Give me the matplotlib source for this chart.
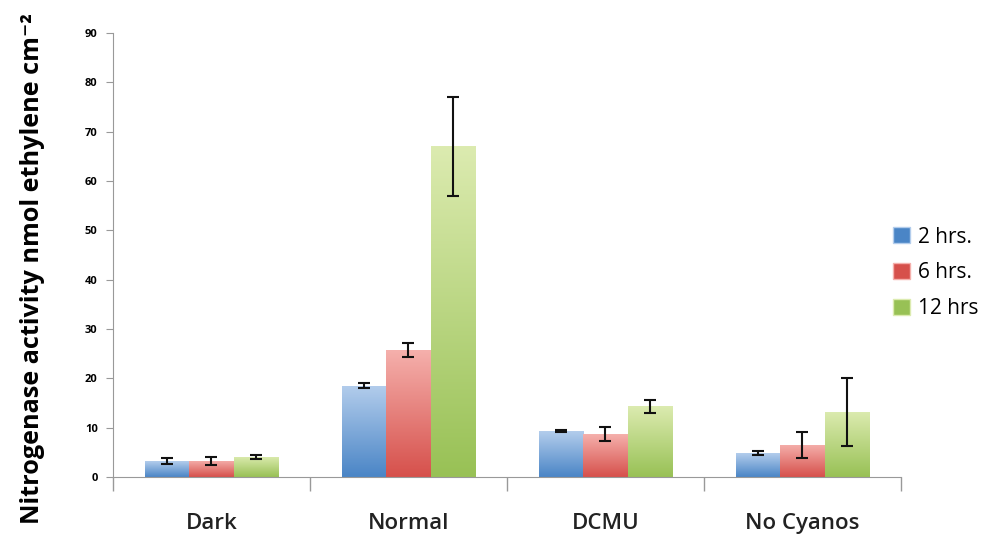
import numpy as np
import matplotlib.pyplot as plt
from matplotlib.colors import LinearSegmentedColormap

# datos
categorias = ['Dark', 'Normal', 'DCMU', 'No Cyanos']
series = ['2 hrs.', '6 hrs.', '12 hrs']
valores_2h = [3.2, 18.5, 9.3, 4.85]
valores_6h = [3.3, 25.7, 8.7, 6.5]
valores_12h = [4.1, 67.0, 14.3, 13.2]
error_2h = [0.6, 0.5, 0.2, 0.45]
error_6h = [0.8, 1.45, 1.4, 2.6]
error_12h = [0.4, 10.0, 1.25, 6.85]

valores = [valores_2h, valores_6h, valores_12h]
errores = [error_2h, error_6h, error_12h]
# (arriba, abajo) para el degradado de cada serie
colores = [('#b3cdec', '#4a85c6'), ('#f5b0ac', '#d6504b'), ('#dcebb0', '#98c155')]

plt.rcParams['font.family'] = ['Open Sans', 'DejaVu Sans']

fig = plt.figure(figsize=(10.05, 5.39), dpi=100)
ax = fig.add_axes([0.1124, 0.115, 0.784, 0.8238])

x = np.arange(len(categorias))
ancho = 0.225
grad = np.linspace(0, 1, 256).reshape(-1, 1)
handles = []
for i, (v, e, (c_top, c_bot)) in enumerate(zip(valores, errores, colores)):
    pos = x + (i - 1) * ancho
    barras = ax.bar(pos, v, ancho, color='none', edgecolor='none', label=series[i])
    cmap = LinearSegmentedColormap.from_list('g%d' % i, [c_bot, c_top])
    for b in barras:
        x0, y0 = b.get_x(), b.get_y()
        w, h = b.get_width(), b.get_height()
        im = ax.imshow(grad, cmap=cmap, origin='lower', aspect='auto',
                       extent=(x0, x0 + w, y0, y0 + h), zorder=1)
        im.set_clip_path(b)
    ax.errorbar(pos, v, yerr=e, fmt='none', ecolor='#111111', elinewidth=1.5,
                capsize=4, capthick=1.5, zorder=3)
    handles.append(plt.Rectangle((0, 0), 1, 1, facecolor=c_bot, edgecolor=c_top))

ax.set_xlim(-0.5, len(categorias) - 0.5)
ax.set_ylim(0, 90)
ax.set_yticks(range(0, 91, 10))
ax.set_xticks(np.arange(-0.5, len(categorias)), minor=False)
ax.set_xticklabels([])
ax.set_xticks(x, minor=True)
ax.set_xticklabels(categorias, minor=True, fontsize=16, fontweight='semibold',
                   color='#222222')
ax.tick_params(axis='x', which='major', length=10, color='#999999', width=1)
ax.tick_params(axis='x', which='minor', length=0, pad=26)
ax.tick_params(axis='y', length=5, color='#999999', labelsize=8, pad=6)
for t in ax.get_yticklabels():
    t.set_fontweight('bold')

for lado in ['top', 'right']:
    ax.spines[lado].set_visible(False)
ax.spines['left'].set_color('#999999')
ax.spines['bottom'].set_color('#999999')

ax.set_ylabel('Nitrogenase activity nmol ethylene cm\u207b\u00b2',
              fontsize=18.2, fontweight='bold')
ax.yaxis.set_label_coords(-0.086, 0.47)

ax.legend(handles, series, loc='center left', bbox_to_anchor=(0.966, 0.46),
          frameon=False, fontsize=15, handlelength=0.8, handleheight=0.8,
          handletextpad=0.4, labelspacing=0.7)

fig.savefig('out.png', dpi=100)
